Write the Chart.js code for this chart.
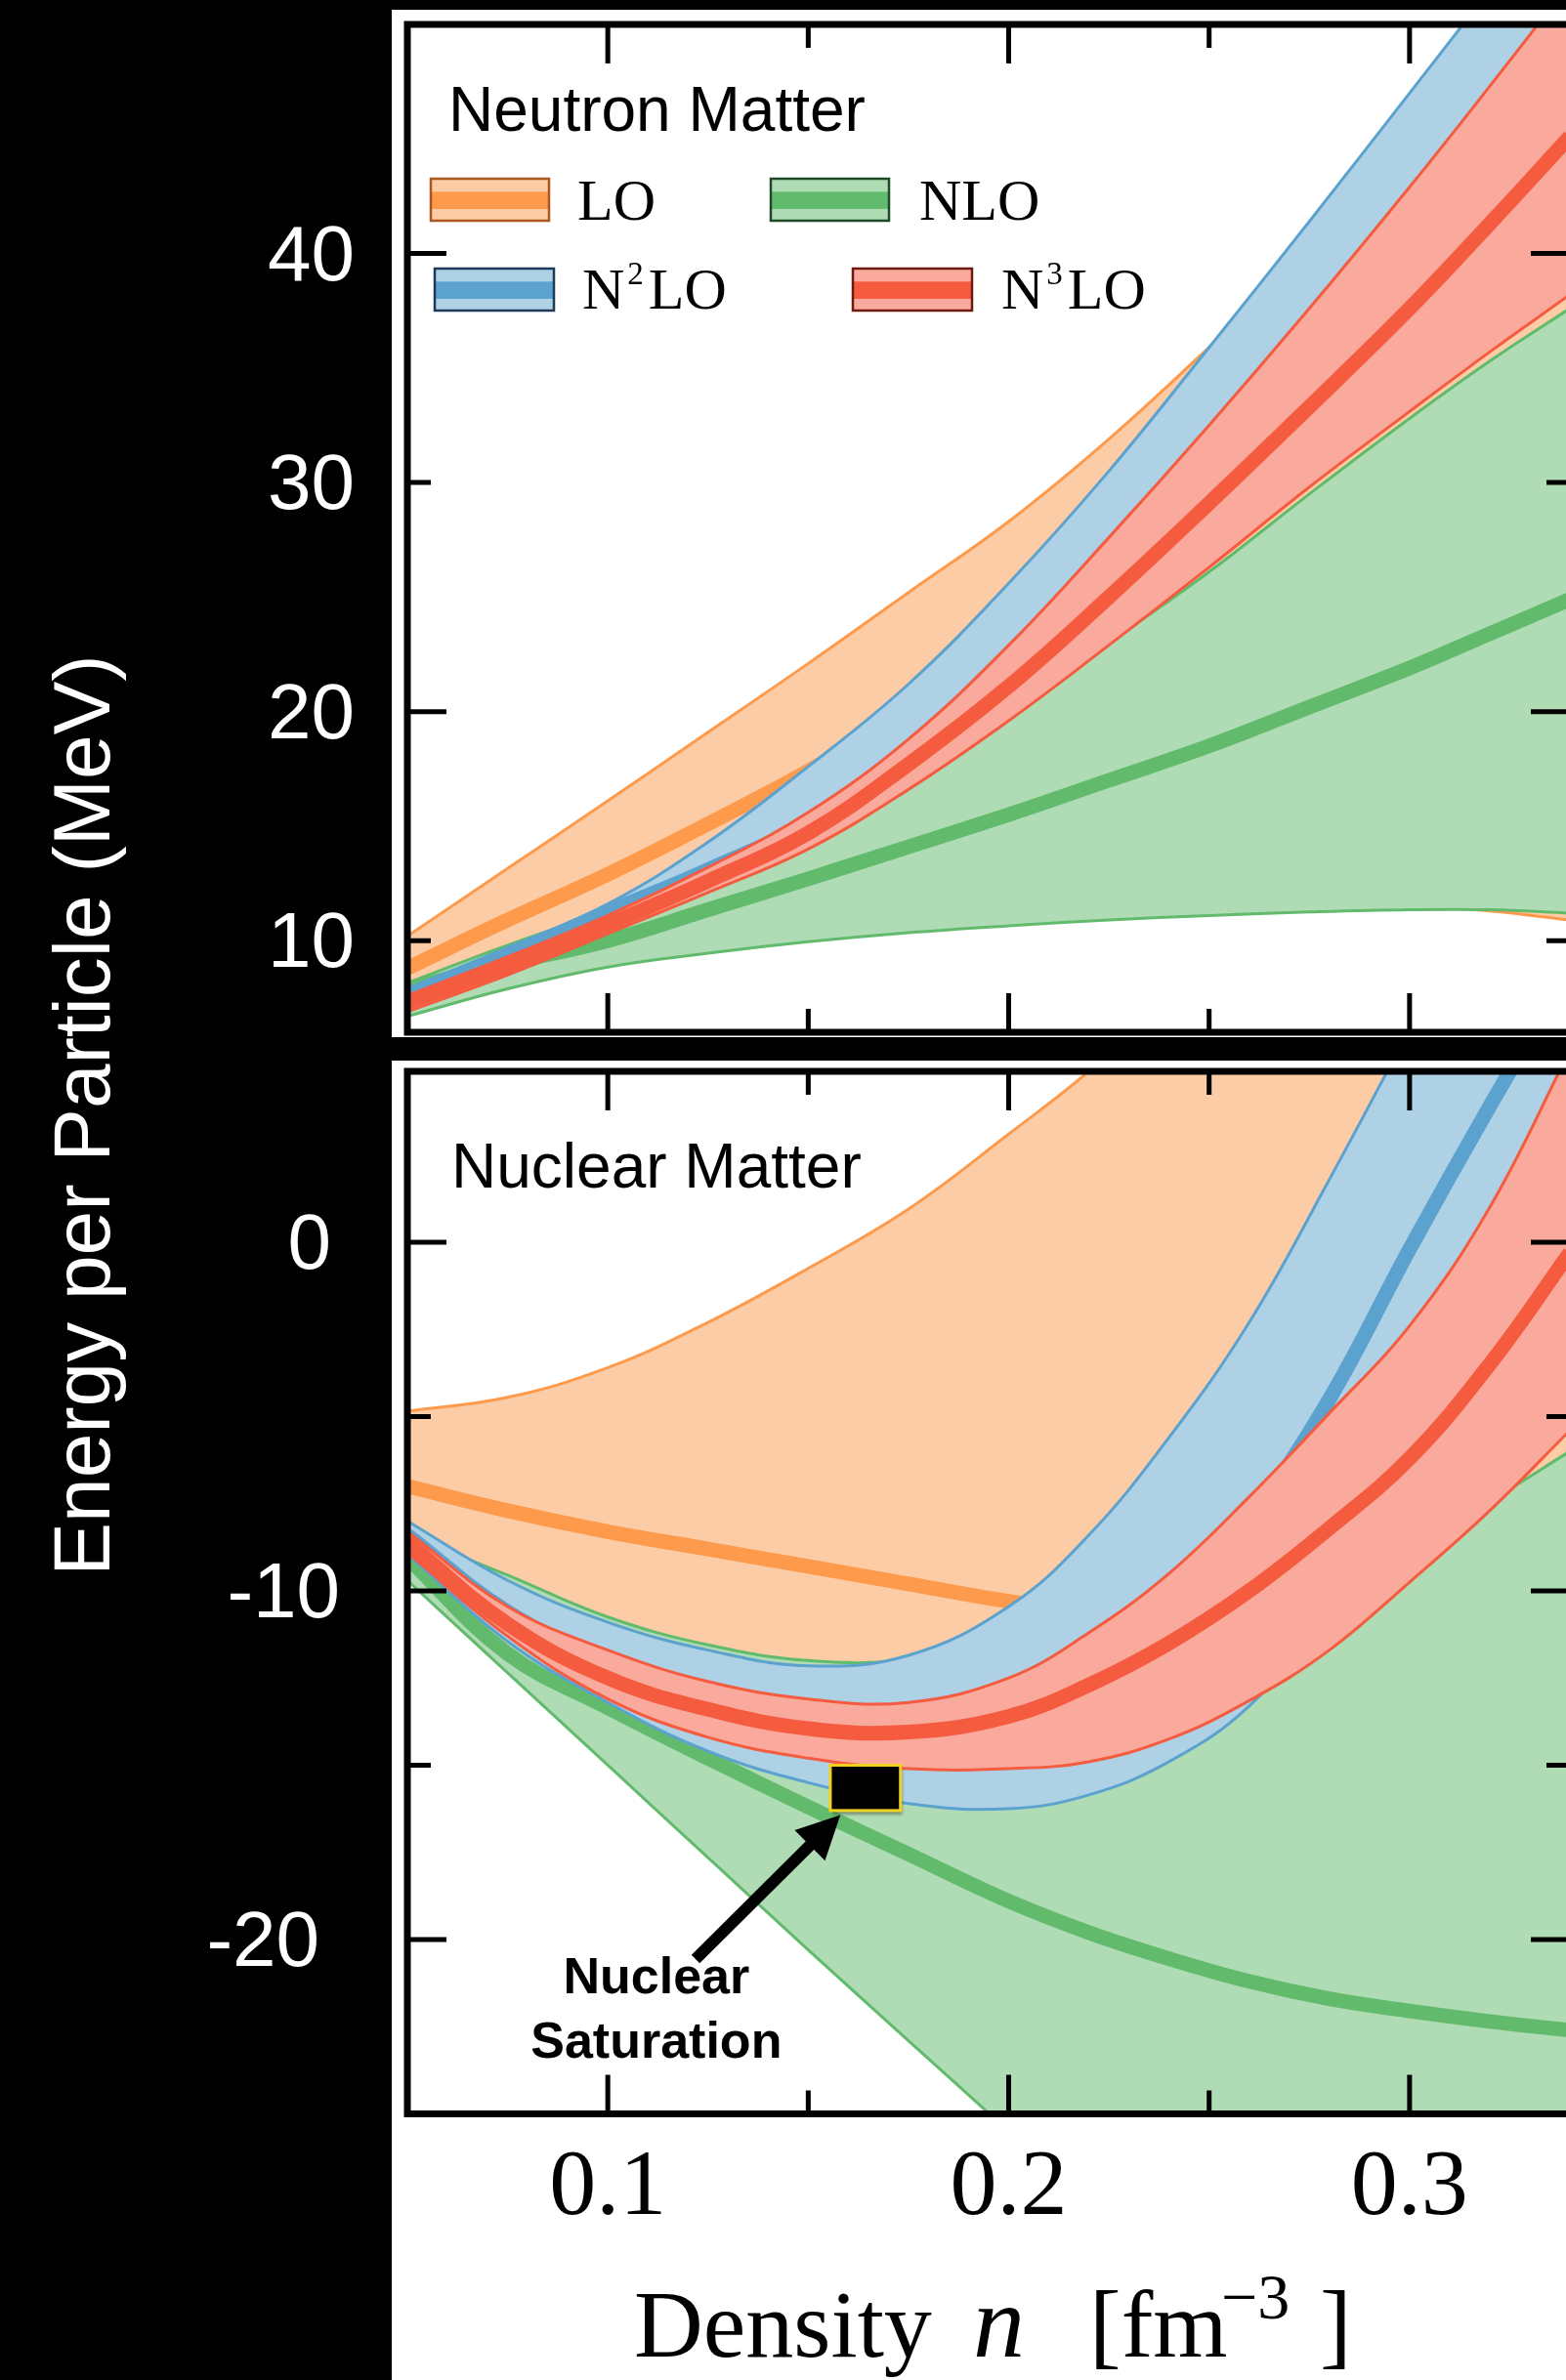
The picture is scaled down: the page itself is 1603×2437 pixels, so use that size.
<!DOCTYPE html>
<html>
<head>
<meta charset="utf-8">
<script src="https://cdn.jsdelivr.net/npm/chart.js@4.4.1/dist/chart.umd.min.js"></script>
<style>
  html, body { margin: 0; padding: 0; background: #000; width: 1603px; height: 2437px; overflow: hidden; }
  .sheet { position: absolute; background: #fff; }
  canvas { position: absolute; left: 0; top: 0; }
</style>
</head>
<body>
<div class="sheet" style="left:401px; top:10px; width:1300px; height:1052px;"></div>
<div class="sheet" style="left:401px; top:1086px; width:1300px; height:1400px;"></div>
<canvas id="neutron" width="1620" height="2437"></canvas>
<canvas id="nuclear" width="1620" height="2437"></canvas>
<script>
// ---------- Neutron matter: energy per particle (MeV) vs density (fm^-3) ----------
const neutronDensity = [0.05, 0.075, 0.1, 0.125, 0.15, 0.175, 0.2, 0.225, 0.25, 0.275, 0.3, 0.32, 0.34];
const neutronLOHigh  = [10.2, 13.15, 16.1, 19.1, 22.1, 25.2, 28.3, 31.9, 35.9, 40.0, 43.8, 47.0, 50.0];
const neutronLOMid   = [8.8, 10.9, 12.9, 15.1, 17.4, 20.0, 22.8, 25.6, 28.6, 31.8, 35.0, 37.6, 40.2];
const neutronLOLow   = [7.6, 8.7, 9.6, 10.2, 10.6, 10.9, 11.1, 11.3, 11.4, 11.5, 11.5, 11.3, 10.9];
const neutronNLOHigh = [8.15, 9.8, 11.3, 12.8, 14.5, 17.0, 19.9, 23.0, 26.1, 29.5, 32.8, 35.3, 37.6];
const neutronNLOMid  = [7.9, 9.0, 10.0, 11.35, 12.7, 14.1, 15.5, 17.0, 18.5, 20.2, 21.9, 23.4, 24.9];
const neutronNLOLow  = [6.7, 7.9, 8.85, 9.45, 9.95, 10.35, 10.65, 10.9, 11.1, 11.25, 11.35, 11.35, 11.2];
const neutronN2LOHigh = [7.9, 9.7, 11.6, 14.3, 17.6, 21.2, 25.6, 30.5, 35.9, 41.4, 47.0, 51.5, 56.0];
const neutronN2LOMid  = [7.6, 9.35, 11.25, 13.1, 15.2, 18.4, 22.4, 27.0, 31.9, 37.0, 42.2, 46.5, 51.0];
const neutronN2LOLow  = [7.2, 8.8, 10.6, 12.5, 14.5, 17.2, 20.4, 23.8, 27.4, 31.0, 34.6, 37.5, 40.4];
const neutronN3LOHigh = [7.6, 9.3, 11.1, 13.2, 15.6, 18.8, 22.9, 27.6, 32.5, 37.6, 42.9, 47.3, 51.8];
const neutronN3LOMid  = [7.3, 8.9, 10.7, 12.6, 14.7, 17.7, 21.1, 25.0, 29.1, 33.3, 37.6, 41.3, 45.1];
const neutronN3LOLow  = [6.9, 8.5, 10.3, 12.1, 14.0, 16.6, 19.6, 22.9, 26.3, 29.8, 33.1, 35.7, 38.2];

// ---------- Symmetric nuclear matter ----------
const nuclearDensity = [0.05, 0.075, 0.1, 0.125, 0.15, 0.175, 0.2, 0.22, 0.24, 0.26, 0.28, 0.3, 0.32, 0.34];
const nuclearLOHigh  = [-4.85, -4.45, -3.6, -2.3, -0.75, 0.95, 3.1, 4.9, 7.0, 9.2, 11.5, 14.0, 16.5, 19.0];
const nuclearLOMid   = [-7.0, -7.7, -8.3, -8.8, -9.3, -9.8, -10.3, -10.6, -10.9, -11.1, -11.3, -11.4, -11.5, -11.5];
const nuclearLOLow   = [-8.3, -10.0, -11.2, -12.0, -12.5, -12.6, -12.5, -12.3, -12.1, -11.8, -11.5, -11.1, -10.8, -10.5];
const nuclearNLOHigh = [-8.4, -9.55, -10.75, -11.55, -12.0, -12.0, -11.6, -11.2, -10.7, -10.1, -9.4, -8.5, -7.4, -6.0];
const nuclearNLOMid  = [-9.05, -11.8, -13.35, -14.8, -16.2, -17.55, -18.9, -19.8, -20.55, -21.2, -21.7, -22.05, -22.35, -22.6];
const nuclearNLOLow  = [-9.7, -12.35, -15.0, -17.65, -20.3, -22.9, -25.5, -27.6, -29.7, -31.8, -33.9, -36.0, -38.1, -40.2];
const nuclearN2LOHigh = [-8.0, -9.7, -10.9, -11.7, -12.15, -11.85, -10.45, -8.4, -5.6, -2.3, 1.8, 6.1, 10.4, 14.5];
const nuclearN2LOMid  = [-8.4, -10.6, -12.0, -13.0, -13.6, -13.8, -13.5, -12.6, -10.9, -8.0, -4.5, -0.2, 3.9, 7.8];
const nuclearN2LOLow  = [-8.95, -11.45, -13.2, -14.6, -15.5, -16.1, -16.25, -15.85, -14.9, -13.3, -10.6, -6.9, -1.6, 5.7];
const nuclearN3LOHigh = [-8.3, -10.45, -11.7, -12.6, -13.1, -13.2, -12.5, -11.2, -9.5, -7.3, -4.9, -2.4, 1.0, 5.5];
const nuclearN3LOMid  = [-8.6, -10.95, -12.5, -13.4, -13.95, -14.05, -13.6, -12.7, -11.5, -10.0, -8.2, -6.2, -3.5, -0.3];
const nuclearN3LOLow  = [-8.9, -11.3, -13.1, -14.2, -14.8, -15.1, -15.1, -14.9, -14.25, -13.15, -11.7, -9.75, -7.7, -5.4];

// Empirical saturation region
const saturationDensity = [0.1555, 0.173];
const saturationEnergy  = [-16.3, -15.0];

// ---------- Ticks ----------
const densityMajorTicks = [0.1, 0.2, 0.3];
const densityMinorTicks = [0.15, 0.25];
const densityTickLabels = ['0.1', '0.2', '0.3'];
const neutronMajorTicks = [20, 40];
const neutronMinorTicks = [10, 30];
const neutronLabelValues = [10, 20, 30, 40];
const neutronTickLabels = ['10', '20', '30', '40'];
const nuclearMajorTicks = [0, -10, -20];
const nuclearMinorTicks = [-5, -15];
const nuclearLabelValues = [0, -10, -20];
const nuclearTickLabels = ['0', '-10', '-20'];

// ---------- Styling ----------
const STYLE = {
  LO:   { line: '#fd9a4b', fill: '#fccca6', edge: '#a9561f', name: 'LO',  sup: '' },
  NLO:  { line: '#62bb6d', fill: '#b0dcb5', edge: '#1f4a27', name: 'NLO', sup: '' },
  N2LO: { line: '#5ba2cf', fill: '#aed1e6', edge: '#1d3b58', name: 'N', sup: '2' },
  N3LO: { line: '#f45b3f', fill: '#f9aa9c', edge: '#6e1a10', name: 'N', sup: '3' }
};
const SANS = '"Liberation Sans", Arial, sans-serif';
const SERIF = '"Liberation Serif", "Times New Roman", serif';
const CANVAS_W = 1620, CANVAS_H = 2437;

const toPoints = (xs, ys) => xs.map((x, i) => ({ x, y: ys[i] }));

function buildDatasets(xs, bands) {
  const common = { pointRadius: 0, pointHoverRadius: 0, tension: 0.4, clip: 0, borderCapStyle: 'butt', borderJoinStyle: 'round' };
  const sets = [];
  bands.forEach((b, k) => {
    const st = STYLE[b.key];
    const order = 40 - k * 10;
    const hiIndex = sets.length;
    sets.push(Object.assign({ label: b.key + ' upper', data: toPoints(xs, b.hi), borderColor: st.line, borderWidth: 3, fill: false, order: order - 1 }, common));
    sets.push(Object.assign({ label: b.key + ' lower', data: toPoints(xs, b.lo), borderColor: st.line, borderWidth: 3, backgroundColor: st.fill, fill: hiIndex, order: order }, common));
    sets.push(Object.assign({ label: b.key, data: toPoints(xs, b.mid), borderColor: st.line, borderWidth: 15, fill: false, order: order - 2 }, common));
  });
  return sets;
}

function drawSwatch(ctx, x, y, w, h, st) {
  ctx.fillStyle = st.fill;
  ctx.fillRect(x, y, w, h);
  ctx.fillStyle = st.line;
  ctx.fillRect(x, y + h * 0.31, w, h * 0.41);
  ctx.lineWidth = 2.5;
  ctx.strokeStyle = st.edge;
  ctx.strokeRect(x, y, w, h);
}

function drawOrderLabel(ctx, st, x, baseline) {
  ctx.fillStyle = '#000';
  ctx.textAlign = 'left';
  ctx.textBaseline = 'alphabetic';
  ctx.font = '60px ' + SERIF;
  if (!st.sup) { ctx.fillText(st.name, x, baseline); return; }
  ctx.fillText('N', x, baseline);
  let cx = x + ctx.measureText('N').width + 3;
  ctx.font = '33px ' + SERIF;
  ctx.fillText(st.sup, cx, baseline - 25);
  cx += ctx.measureText(st.sup).width + 5;
  ctx.font = '60px ' + SERIF;
  ctx.fillText('LO', cx, baseline);
}

function drawArrow(ctx, x0, y0, x1, y1) {
  const ang = Math.atan2(y1 - y0, x1 - x0);
  const headLen = 44, headHalf = 22;
  const c = Math.cos(ang), s = Math.sin(ang);
  const bx = x1 - headLen * c, by = y1 - headLen * s;
  ctx.strokeStyle = '#000';
  ctx.fillStyle = '#000';
  ctx.lineWidth = 12;
  ctx.lineCap = 'butt';
  ctx.beginPath();
  ctx.moveTo(x0, y0);
  ctx.lineTo(bx + 2 * c, by + 2 * s);
  ctx.stroke();
  ctx.beginPath();
  ctx.moveTo(x1, y1);
  ctx.lineTo(bx - headHalf * s, by + headHalf * c);
  ctx.lineTo(bx + headHalf * s, by - headHalf * c);
  ctx.closePath();
  ctx.fill();
}

// Frame, inward ticks, labels and annotations for one panel
const panelDecor = {
  id: 'panelDecor',
  afterDraw(chart, args, opts) {
    const { ctx, chartArea: a } = chart;
    const xs = chart.scales.x, ys = chart.scales.y;
    ctx.save();

    // saturation box and arrow
    if (opts.saturation) {
      const bx0 = xs.getPixelForValue(saturationDensity[0]);
      const bx1 = xs.getPixelForValue(saturationDensity[1]);
      const by0 = ys.getPixelForValue(saturationEnergy[1]);
      const by1 = ys.getPixelForValue(saturationEnergy[0]);
      ctx.save();
      ctx.shadowColor = 'rgba(0,0,0,0.35)';
      ctx.shadowOffsetX = 2; ctx.shadowOffsetY = 4; ctx.shadowBlur = 3;
      ctx.fillStyle = '#000';
      ctx.fillRect(bx0, by0, bx1 - bx0, by1 - by0);
      ctx.restore();
      ctx.strokeStyle = '#f2d21f';
      ctx.lineWidth = 3;
      ctx.strokeRect(bx0, by0, bx1 - bx0, by1 - by0);

      const n = opts.saturationNote;
      drawArrow(ctx, xs.getPixelForValue(n.tail[0]), ys.getPixelForValue(n.tail[1]),
                     xs.getPixelForValue(n.tip[0]), ys.getPixelForValue(n.tip[1]));
      ctx.fillStyle = '#000';
      ctx.font = 'bold 52px ' + SANS;
      ctx.textAlign = 'center';
      ctx.textBaseline = 'alphabetic';
      const tx = xs.getPixelForValue(n.text[0]);
      ctx.fillText('Nuclear', tx, ys.getPixelForValue(n.text[1]));
      ctx.fillText('Saturation', tx, ys.getPixelForValue(n.text[2]));
    }

    // ticks on all four sides, pointing inward
    ctx.strokeStyle = '#000';
    ctx.lineCap = 'butt';
    ctx.lineWidth = 5;
    const MAJ = 40, MIN = 24;
    const vTick = (v, len) => {
      const px = xs.getPixelForValue(v);
      ctx.beginPath();
      ctx.moveTo(px, a.top); ctx.lineTo(px, a.top + len);
      ctx.moveTo(px, a.bottom); ctx.lineTo(px, a.bottom - len);
      ctx.stroke();
    };
    const hTick = (v, len) => {
      const py = ys.getPixelForValue(v);
      ctx.beginPath();
      ctx.moveTo(a.left, py); ctx.lineTo(a.left + len, py);
      ctx.moveTo(a.right, py); ctx.lineTo(a.right - len, py);
      ctx.stroke();
    };
    densityMajorTicks.forEach(v => vTick(v, MAJ));
    densityMinorTicks.forEach(v => vTick(v, MIN));
    opts.yMajor.forEach(v => hTick(v, MAJ));
    opts.yMinor.forEach(v => hTick(v, MIN));

    // frame
    ctx.lineWidth = 7;
    ctx.strokeRect(a.left, a.top, a.right - a.left, a.bottom - a.top);

    // y tick labels on the dark margin
    ctx.fillStyle = '#fff';
    ctx.font = '80px ' + SANS;
    ctx.textAlign = 'right';
    ctx.textBaseline = 'alphabetic';
    opts.yLabelValues.forEach((v, i) => {
      ctx.fillText(opts.yLabels[i], opts.yLabelRight[i], ys.getPixelForValue(v) + 27);
    });

    // panel title
    ctx.fillStyle = '#000';
    ctx.font = '64px ' + SANS;
    ctx.textAlign = 'left';
    ctx.fillText(opts.title, opts.titleAt[0], opts.titleAt[1]);

    // legend
    if (opts.legend) {
      opts.legend.forEach(item => {
        const st = STYLE[item.key];
        drawSwatch(ctx, item.box[0], item.box[1], item.box[2], item.box[3], st);
        drawOrderLabel(ctx, st, item.text[0], item.text[1]);
      });
    }

    // x tick labels and axis title
    if (opts.xAxis) {
      ctx.fillStyle = '#000';
      ctx.font = '96px ' + SERIF;
      ctx.textAlign = 'center';
      densityMajorTicks.forEach((v, i) => ctx.fillText(densityTickLabels[i], xs.getPixelForValue(v), 2267));
      ctx.textAlign = 'left';
      const base = 2413;
      ctx.font = '98px ' + SERIF;
      ctx.fillText('Density', 649, base);
      ctx.font = 'italic 106px ' + SERIF;
      ctx.fillText('n', 996, base);
      ctx.font = '98px ' + SERIF;
      ctx.fillText('[fm', 1115, base);
      ctx.font = '66px ' + SERIF;
      ctx.fillText('\u22123', 1250, 2374);
      ctx.font = '98px ' + SERIF;
      ctx.fillText(']', 1351, base);
    }

    // shared y-axis title
    if (opts.yTitle) {
      ctx.save();
      ctx.translate(112, 1142);
      ctx.rotate(-Math.PI / 2);
      ctx.fillStyle = '#fff';
      ctx.font = '82px ' + SANS;
      ctx.textAlign = 'center';
      ctx.textBaseline = 'alphabetic';
      ctx.fillText('Energy per Particle (MeV)', 0, 0);
      ctx.restore();
    }
    ctx.restore();
  }
};

function makePanel(id, xs, bands, yRange, area, decor) {
  return new Chart(document.getElementById(id), {
    type: 'line',
    data: { datasets: buildDatasets(xs, bands) },
    options: {
      responsive: false,
      animation: false,
      devicePixelRatio: 1,
      events: [],
      layout: { padding: { left: area.left, right: CANVAS_W - area.right, top: area.top, bottom: CANVAS_H - area.bottom } },
      scales: {
        x: { type: 'linear', min: 0.05, max: 0.34, display: false },
        y: { type: 'linear', min: yRange[0], max: yRange[1], display: false }
      },
      plugins: {
        legend: { display: false },
        tooltip: { enabled: false },
        filler: { propagate: false },
        panelDecor: decor
      }
    },
    plugins: [panelDecor]
  });
}

makePanel('neutron', neutronDensity, [
  { key: 'LO',   hi: neutronLOHigh,   mid: neutronLOMid,   lo: neutronLOLow },
  { key: 'NLO',  hi: neutronNLOHigh,  mid: neutronNLOMid,  lo: neutronNLOLow },
  { key: 'N2LO', hi: neutronN2LOHigh, mid: neutronN2LOMid, lo: neutronN2LOLow },
  { key: 'N3LO', hi: neutronN3LOHigh, mid: neutronN3LOMid, lo: neutronN3LOLow }
], [6, 50], { left: 417, right: 1607, top: 25, bottom: 1057 }, {
  yMajor: neutronMajorTicks, yMinor: neutronMinorTicks,
  yLabelValues: neutronLabelValues, yLabels: neutronTickLabels, yLabelRight: [363, 363, 363, 363],
  title: 'Neutron Matter', titleAt: [459, 134],
  legend: [
    { key: 'LO',   box: [441, 183, 121, 43], text: [591, 225] },
    { key: 'NLO',  box: [789, 183, 121, 43], text: [941, 225] },
    { key: 'N2LO', box: [445, 275, 122, 43], text: [596, 316] },
    { key: 'N3LO', box: [873, 275, 122, 43], text: [1025, 316] }
  ]
});

makePanel('nuclear', nuclearDensity, [
  { key: 'LO',   hi: nuclearLOHigh,   mid: nuclearLOMid,   lo: nuclearLOLow },
  { key: 'NLO',  hi: nuclearNLOHigh,  mid: nuclearNLOMid,  lo: nuclearNLOLow },
  { key: 'N2LO', hi: nuclearN2LOHigh, mid: nuclearN2LOMid, lo: nuclearN2LOLow },
  { key: 'N3LO', hi: nuclearN3LOHigh, mid: nuclearN3LOMid, lo: nuclearN3LOLow }
], [-25, 4.9], { left: 417, right: 1607, top: 1097, bottom: 2164.5 }, {
  yMajor: nuclearMajorTicks, yMinor: nuclearMinorTicks,
  yLabelValues: nuclearLabelValues, yLabels: nuclearTickLabels, yLabelRight: [339, 348, 327],
  title: 'Nuclear Matter', titleAt: [462, 1216],
  saturation: true,
  saturationNote: { tail: [0.1219, -20.56], tip: [0.158, -16.43], text: [0.1121, -21.54, -23.39] },
  xAxis: true,
  yTitle: true
});
</script>
</body>
</html>
